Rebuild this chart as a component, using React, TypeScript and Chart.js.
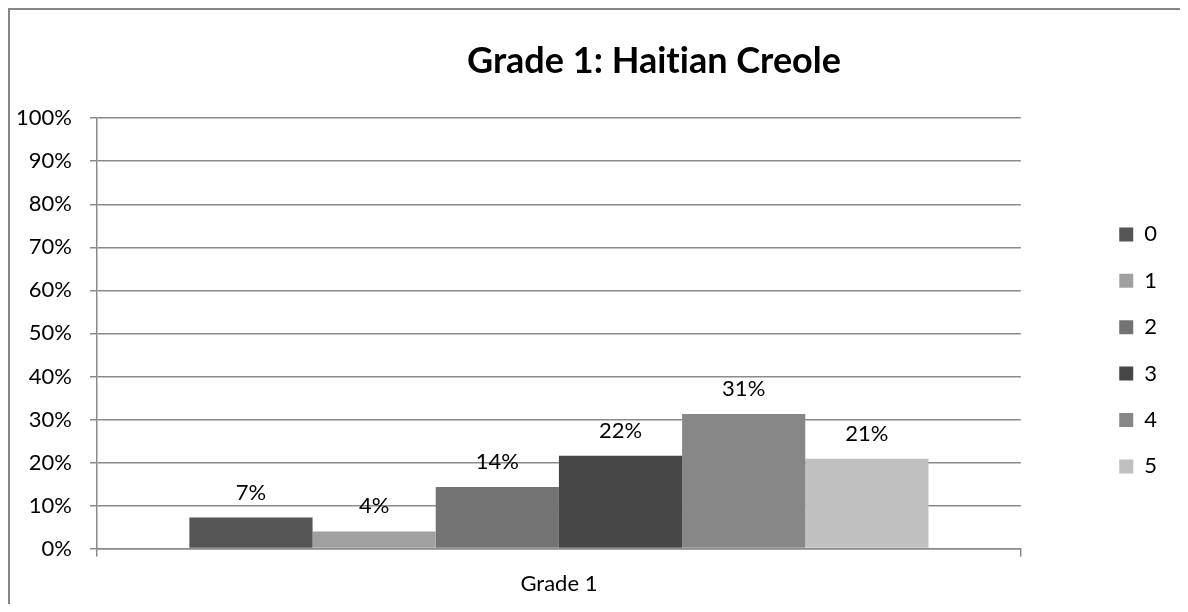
import React, { useEffect, useRef } from 'react';
import { Chart, registerables } from 'chart.js';

Chart.register(...registerables);

const FONT = "Lato, 'Open Sans', sans-serif";
const GRID = '#8a8a8a';

const chartTitle = 'Grade 1: Haitian Creole';
const categories = ['Grade 1'];
const seriesNames = ['0', '1', '2', '3', '4', '5'];
const seriesValues = [0.072, 0.04, 0.143, 0.216, 0.313, 0.209];
const seriesColors = ['#555555', '#a0a0a0', '#737373', '#464646', '#878787', '#c0c0c0'];
const yMin = 0;
const yMax = 1;
const yStep = 0.1;

const pct = (v: number) => Math.round(v * 100) + '%';

const noLigatures = {
  id: 'noLigatures',
  beforeDraw(chart: any) {
    try { chart.ctx.textRendering = 'optimizeSpeed'; } catch (e) { /* ignore */ }
  },
};

const valueLabels = {
  id: 'valueLabels',
  afterDatasetsDraw(chart: any) {
    const ctx = chart.ctx;
    ctx.save();
    ctx.font = `22px ${FONT}`;
    ctx.fillStyle = '#000';
    ctx.textAlign = 'center';
    ctx.textBaseline = 'middle';
    chart.data.datasets.forEach((ds: any, i: number) => {
      const meta = chart.getDatasetMeta(i);
      meta.data.forEach((el: any, j: number) => {
        ctx.fillText(pct(ds.data[j] as number), el.x, el.y - 25);
      });
    });
    ctx.restore();
  },
};

export default function App() {
  const ref = useRef<HTMLCanvasElement | null>(null);

  useEffect(() => {
    if (!ref.current) return;
    const chart = new Chart(ref.current, {
      type: 'bar',
      data: {
        labels: categories,
        datasets: seriesNames.map((name, i) => ({
          label: name,
          data: [seriesValues[i]],
          backgroundColor: seriesColors[i],
          borderWidth: 0,
          categoryPercentage: 0.8,
          barPercentage: 1,
        })),
      },
      options: {
        responsive: false,
        animation: false,
        events: [],
        layout: { padding: 0 },
        plugins: {
          title: {
            display: true,
            text: chartTitle,
            color: '#000',
            font: { family: FONT, size: 36, weight: 'bold' },
            padding: { top: 30, bottom: 35 },
          },
          legend: {
            position: 'right',
            fullSize: false,
            align: 'center',
            title: { display: true, text: '', font: { size: 10 }, padding: 11 },
            labels: {
              boxWidth: 14,
              boxHeight: 14,
              padding: 24.4,
              color: '#000',
              font: { family: FONT, size: 22 },
            },
          },
          tooltip: { enabled: false },
        },
        scales: {
          x: {
            grid: { display: true, drawOnChartArea: false, drawTicks: true, tickLength: 8, color: GRID, lineWidth: 1.5 },
            border: { display: true, color: GRID, width: 1.5 },
            ticks: { color: '#000', font: { family: FONT, size: 22 }, padding: 14 },
          },
          y: {
            min: yMin,
            max: yMax,
            ticks: {
              stepSize: yStep,
              color: '#000',
              font: { family: FONT, size: 22 },
              padding: 18,
              callback: (v: any) => pct(Number(v)),
            },
            grid: { color: GRID, lineWidth: 1.5, tickLength: 7 },
            border: { color: GRID, width: 1.5 },
            afterFit: (s: any) => { s.width = 87; },
          },
          gapInner: {
            type: 'linear',
            position: 'right',
            display: true,
            grid: { display: false },
            border: { display: false },
            ticks: { display: false },
            afterFit: (s: any) => { s.width = 74; },
          },
          gapOuter: {
            type: 'linear',
            position: 'right',
            weight: 2000,
            display: true,
            grid: { display: false },
            border: { display: false },
            ticks: { display: false },
            afterFit: (s: any) => { s.width = 131; },
          },
        },
      } as any,
      plugins: [noLigatures, valueLabels],
    });
    return () => chart.destroy();
  }, []);

  return (
    <div
      style={{
        width: 1172,
        height: 596,
        overflow: 'hidden',
        borderLeft: '2px solid #868686',
        borderTop: '2px solid #868686',
        boxSizing: 'border-box',
        background: '#fff',
      }}
    >
      <canvas ref={ref} width={1288} height={601} style={{ display: 'block' }} />
    </div>
  );
}
